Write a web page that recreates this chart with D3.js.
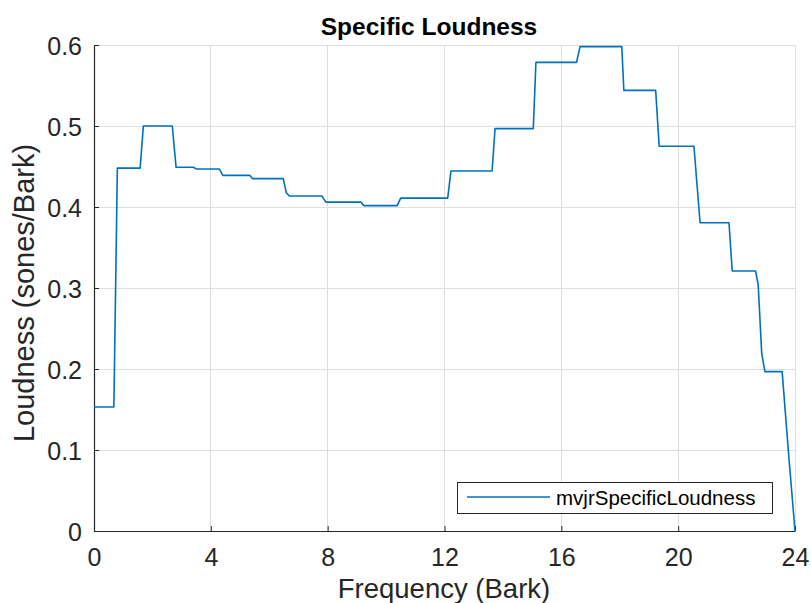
<!DOCTYPE html>
<html><head><meta charset="utf-8">
<script src="https://cdn.jsdelivr.net/npm/d3@7"></script>
<style>body{margin:0;background:#fff;} text{font-family:"Liberation Sans",Arial,sans-serif;}</style>
</head><body>
<svg id="c" width="811" height="603"></svg>
<script>
const bark = [0, 0.68, 0.8, 1.58, 1.69, 2.68, 2.81, 3.40, 3.51, 4.29, 4.41, 5.34, 5.43, 6.48, 6.58, 6.69, 7.80, 7.94, 9.14, 9.24, 10.38, 10.50, 12.11, 12.22, 13.63, 13.73, 15.04, 15.13, 16.52, 16.64, 18.07, 18.14, 19.23, 19.35, 20.54, 20.75, 21.74, 21.85, 22.65, 22.74, 22.86, 22.97, 23.56, 23.77, 24.0];
const loudness = [0.153, 0.153, 0.448, 0.448, 0.500, 0.500, 0.449, 0.449, 0.447, 0.447, 0.439, 0.439, 0.435, 0.435, 0.418, 0.4136, 0.4136, 0.406, 0.406, 0.4017, 0.4017, 0.411, 0.411, 0.4444, 0.4444, 0.4967, 0.4967, 0.5786, 0.5786, 0.598, 0.598, 0.544, 0.544, 0.475, 0.475, 0.3806, 0.3806, 0.321, 0.321, 0.3037, 0.2194, 0.1967, 0.1967, 0.1, 0.0];
const xTicks = [0, 4, 8, 12, 16, 20, 24];
const yTicks = [0, 0.1, 0.2, 0.3, 0.4, 0.5, 0.6];
const seriesName = "mvjrSpecificLoudness";

const svg = d3.select("#c");
const L = 94, R = 795, T = 45, B = 531;
const x = d3.scaleLinear().domain([0, 24]).range([L, R]);
const y = d3.scaleLinear().domain([0, 0.6]).range([B, T]);
const axisColor = "#262626";
const ff = "'Liberation Sans',Arial,sans-serif";

// grid
const g = svg.append("g");
g.selectAll(".gx").data(xTicks).join("line")
  .attr("x1", d => x(d)).attr("x2", d => x(d)).attr("y1", T).attr("y2", B)
  .attr("stroke", "#dedede").attr("stroke-width", 1).attr("shape-rendering", "crispEdges");
g.selectAll(".gy").data(yTicks).join("line")
  .attr("y1", d => y(d)).attr("y2", d => y(d)).attr("x1", L).attr("x2", R)
  .attr("stroke", "#dedede").attr("stroke-width", 1).attr("shape-rendering", "crispEdges");

// axes (ticks inward)
const xAxis = d3.axisBottom(x).tickValues(xTicks).tickSizeInner(-5).tickSizeOuter(0).tickPadding(17).tickFormat(d3.format("d"));
const yAxis = d3.axisLeft(y).tickValues(yTicks).tickSizeInner(-5).tickSizeOuter(0).tickPadding(12).tickFormat(d => d === 0 ? "0" : d3.format(".1f")(d));
const gx = svg.append("g").attr("transform", `translate(0,${B})`).call(xAxis);
const gy = svg.append("g").attr("transform", `translate(${L},0)`).call(yAxis);
[gx, gy].forEach(a => {
  a.select(".domain").attr("stroke", axisColor).attr("stroke-width", 1.2);
  a.selectAll(".tick line").attr("stroke", axisColor);
  a.selectAll(".tick text").attr("fill", axisColor).style("font-size", "25px").style("font-family", ff);
});
gy.selectAll(".tick text").attr("dy", "0.38em");

// line
const pts = bark.map((b, i) => [b, loudness[i]]);
svg.append("path").datum(pts)
  .attr("d", d3.line().x(d => x(d[0])).y(d => y(d[1])))
  .attr("fill", "none").attr("stroke", "#0072BD").attr("stroke-width", 1.6).attr("stroke-linejoin", "round");

// title and labels
svg.append("text").attr("x", 429).attr("y", 35).attr("text-anchor", "middle")
  .style("font-size", "24.5px").style("font-weight", "bold").attr("fill", "#000").text("Specific Loudness");
svg.append("text").attr("x", 444).attr("y", 598).attr("text-anchor", "middle")
  .style("font-size", "27.5px").attr("fill", axisColor).text("Frequency (Bark)");
svg.append("text").attr("transform", `translate(34,293) rotate(-90)`).attr("text-anchor", "middle")
  .style("font-size", "29px").attr("fill", axisColor).text("Loudness (sones/Bark)");

// legend
const lg = svg.append("g");
lg.append("rect").attr("x", 457.5).attr("y", 482.5).attr("width", 315).attr("height", 31)
  .attr("fill", "#fff").attr("stroke", axisColor).attr("stroke-width", 1);
lg.append("line").attr("x1", 467).attr("x2", 550).attr("y1", 497).attr("y2", 497)
  .attr("stroke", "#0072BD").attr("stroke-width", 1.5);
lg.append("text").attr("x", 556).attr("y", 505).style("font-size", "20.5px").attr("fill", "#000").text(seriesName);
</script>
</body></html>
